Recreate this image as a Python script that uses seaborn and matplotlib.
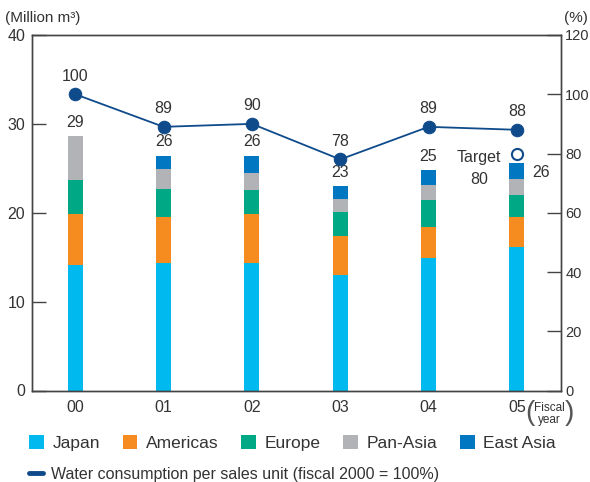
import numpy as np
import pandas as pd
import matplotlib
matplotlib.use("Agg")
import matplotlib.pyplot as plt
import seaborn as sns
from matplotlib.patches import Patch
from matplotlib.lines import Line2D

# data
years = ["00", "01", "02", "03", "04", "05"]
japan = [14.1, 14.3, 14.3, 13.0, 14.9, 16.1]
americas = [5.75, 5.2, 5.55, 4.4, 3.5, 3.4]
europe = [3.85, 3.2, 2.7, 2.7, 3.0, 2.5]
pan_asia = [4.9, 2.2, 1.95, 1.4, 1.7, 1.8]
east_asia = [0.0, 1.5, 1.9, 1.5, 1.7, 1.8]
total_labels = ["29", "26", "26", "23", "25", "26"]
per_unit = [100, 89, 90, 78, 89, 88]
target_05 = 80

regions = ["Japan", "Americas", "Europe", "Pan-Asia", "East Asia"]
colors = ["#00B9EF", "#F68B1F", "#00A886", "#B1B3B6", "#0077C0"]
line_color = "#0F4A8A"
text_color = "#333333"

sns.set_theme(style="white")
plt.rcParams["font.family"] = ["Liberation Sans Narrow", "Liberation Sans", "DejaVu Sans"]
plt.rcParams["text.color"] = text_color

df = pd.DataFrame({"year": years, "Japan": japan, "Americas": americas,
                   "Europe": europe, "Pan-Asia": pan_asia, "East Asia": east_asia})
cum = df[regions].cumsum(axis=1)

fig = plt.figure(figsize=(5.9, 4.82), dpi=100)
ax = fig.add_axes([32 / 590, 1 - 390.5 / 482, (561 - 32) / 590, (390.5 - 35) / 482])

# stacked bars: draw cumulative tops from largest down
for reg, col in zip(reversed(regions), reversed(colors)):
    sns.barplot(x=df["year"], y=cum[reg], color=col, width=0.17,
                saturation=1, ax=ax, edgecolor="none", linewidth=0)

ax.set_ylim(0, 40)
ax.set_xlim(-0.49, 5.5)
ax.set_yticks([0, 10, 20, 30, 40])
ax.set_xlabel("")
ax.set_ylabel("")
ax.tick_params(axis="y", direction="in", length=10, width=1, color="#444444",
               labelsize=11.5, labelcolor=text_color, left=True, pad=5)
ax.tick_params(axis="x", length=0, labelsize=11.5, labelcolor=text_color, pad=7)
for s in ax.spines.values():
    s.set_color("#444444")
    s.set_linewidth(1)

# total labels
tops = cum["East Asia"].values
for i, lab in enumerate(total_labels):
    if i == 5:
        ax.annotate(lab, (i, tops[i]), xytext=(11, -7), textcoords="offset points",
                    ha="left", va="center", fontsize=11.5, color=text_color)
    else:
        ax.annotate(lab, (i, tops[i]), xytext=(0, 10), textcoords="offset points",
                    ha="center", va="center", fontsize=11.5, color=text_color)

# line on right axis
ax2 = ax.twinx()
sns.lineplot(x=np.arange(len(years)), y=per_unit, ax=ax2, color=line_color,
             linewidth=1.3, marker="o", markersize=9, markeredgecolor=line_color,
             markerfacecolor=line_color)
ax2.plot([5], [target_05], marker="o", markersize=8, markerfacecolor="white",
         markeredgecolor=line_color, markeredgewidth=1.5, linestyle="none")
ax2.set_ylim(0, 120)
ax2.set_yticks([0, 20, 40, 60, 80, 100, 120])
ax2.tick_params(axis="y", direction="in", length=10, width=1, color="#444444",
                labelsize=10.5, labelcolor=text_color, right=True, pad=3)
ax2.set_xlim(-0.49, 5.5)
for s in ax2.spines.values():
    s.set_color("#444444")
    s.set_linewidth(1)

for i, v in enumerate(per_unit):
    ax2.annotate(str(v), (i, v), xytext=(0, 13), textcoords="offset points",
                 ha="center", va="center", fontsize=11.5, color=text_color)
ax2.annotate("Target\n80", (5, target_05), xytext=(-27, -11), textcoords="offset points",
             ha="center", va="center", fontsize=11.5, color=text_color, linespacing=1.6)

# axis unit labels
fig.text(5 / 590, 1 - 18 / 482, "(Million m³)", fontsize=11, ha="left", va="center")
fig.text(588 / 590, 1 - 18 / 482, "(%)", fontsize=11, ha="right", va="center")
fig.text(549.5 / 590, 1 - 414 / 482, "Fiscal\nyear", fontsize=8.5, ha="center",
         va="center", linespacing=1.1)
fig.text(530 / 590, 1 - 413 / 482, "(", fontsize=20, ha="center", va="center",
         color="#555555")
fig.text(569 / 590, 1 - 413 / 482, ")", fontsize=20, ha="center", va="center",
         color="#555555")

# legends
handles = [Patch(facecolor=c, edgecolor="none") for c in colors]
fig.legend(handles, regions, loc="center left", bbox_to_anchor=(29 / 590, 1 - 443 / 482),
           ncol=5, frameon=False, fontsize=12.5, handlelength=0.85, handleheight=0.85,
           handletextpad=0.5, columnspacing=1.3, borderpad=0, borderaxespad=0)
fig.legend([Line2D([0], [0], color=line_color, linewidth=3.5)],
           ["Water consumption per sales unit (fiscal 2000 = 100%)"],
           loc="center left", bbox_to_anchor=(29 / 590, 1 - 474 / 482),
           frameon=False, fontsize=11.5, handlelength=0.85, handletextpad=0.5,
           borderpad=0, borderaxespad=0)

fig.savefig("out.png", dpi=100)
